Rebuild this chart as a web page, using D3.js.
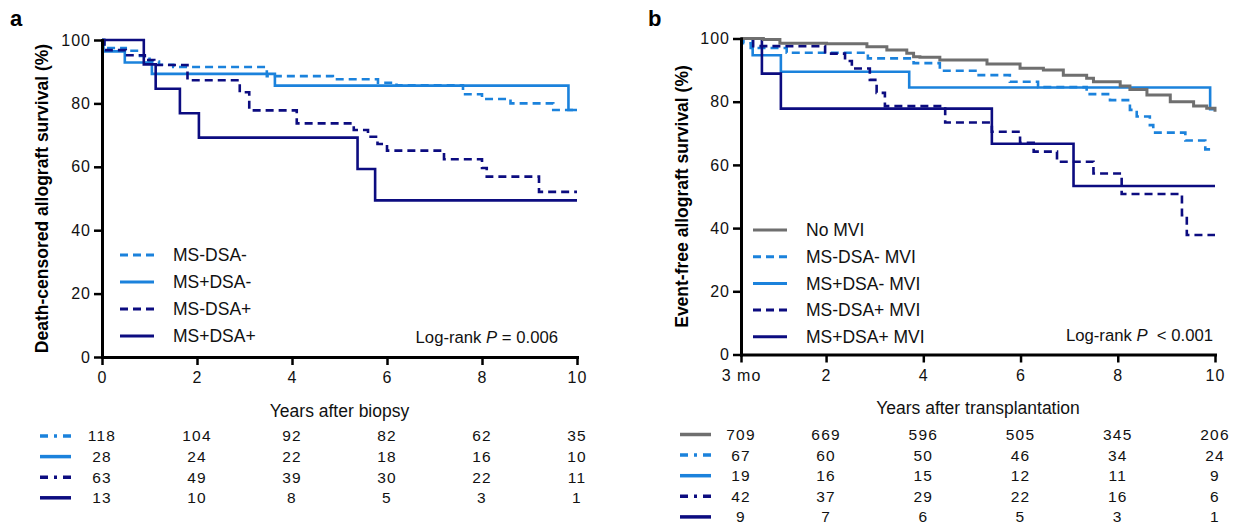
<!DOCTYPE html>
<html>
<head>
<meta charset="utf-8">
<script src="https://cdn.jsdelivr.net/npm/d3@7"></script>
<style>
  body { margin: 0; background: #fff; }
  svg { font-family: "Liberation Sans", Arial, sans-serif; }
</style>
</head>
<body>
<div id="container"></div>
<script>
// Colors
const lightBlue = "#1b82dc";
const navy = "#0c0c80";
const grey = "#6f6f6f";

// Panel a: Kaplan-Meier steps [years, survival %]
const aTicks = [0, 2, 4, 6, 8, 10];
const aTickLabels = ["0", "2", "4", "6", "8", "10"];
const aNames = ["MS-DSA-", "MS+DSA-", "MS-DSA+", "MS+DSA+"];
const aMsNegDsaNeg = [[0, 100], [0.05, 97.5], [0.5, 96.6], [0.8, 95.0], [1.0, 93.2], [1.2, 92.2], [1.5, 91.5],
  [3.47, 88.6], [4.86, 87.6], [5.81, 86.5], [6.2, 85.7], [7.6, 82.9], [8.0, 81.4], [8.6, 80.0], [9.5, 77.9], [10, 77.9]];
const aMsPosDsaNeg = [[0, 100], [0.03, 96.4], [0.48, 92.9], [1.05, 89.3], [3.64, 85.6], [9.82, 77.9], [10, 77.9]];
const aMsNegDsaPos = [[0, 100], [0.05, 96.8], [0.5, 95.2], [0.9, 93.7], [1.1, 92.1], [1.8, 87.3], [2.9, 83.5],
  [3.1, 77.8], [4.1, 73.7], [5.3, 71.6], [5.6, 69.5], [5.8, 67.2], [6.0, 65.1], [7.2, 62.4], [8.0, 59.6],
  [8.1, 56.9], [9.2, 52.1], [10, 52.1]];
const aMsPosDsaPos = [[0, 100], [0.88, 92.3], [1.13, 84.6], [1.64, 76.9], [2.04, 69.2], [5.38, 59.3], [5.75, 49.4], [10, 49.4]];
// numbers at risk
const aRisk1 = [118, 104, 92, 82, 62, 35];
const aRisk2 = [28, 24, 22, 18, 16, 10];
const aRisk3 = [63, 49, 39, 30, 22, 11];
const aRisk4 = [13, 10, 8, 5, 3, 1];

// Panel b
const bTicks = [0.25, 2, 4, 6, 8, 10];
const bTickLabels = ["3 mo", "2", "4", "6", "8", "10"];
const bNames = ["No MVI", "MS-DSA- MVI", "MS+DSA- MVI", "MS-DSA+ MVI", "MS+DSA+ MVI"];
const bNoMvi = [[0.25, 100], [0.71, 99.7], [1.05, 98.5], [2.01, 98.3], [2.84, 97.4], [3.25, 96.4], [3.66, 95.3],
  [3.8, 94.2], [3.93, 94.1], [4.34, 93.2], [4.62, 93.2], [5.31, 91.9], [5.99, 90.6], [6.47, 90.0], [6.88, 88.4],
  [7.36, 87.4], [7.5, 86.3], [8.05, 85.0], [8.25, 83.9], [8.6, 82.1], [9.08, 80.0], [9.56, 78.6], [9.83, 77.9], [10, 76.8]];
const bMsNegDsaNeg = [[0.25, 100], [0.3, 98.5], [0.45, 97.0], [1.19, 95.5], [2.86, 93.7], [3.8, 92.2], [4.34, 89.8],
  [5.1, 88.4], [5.78, 86.3], [6.36, 84.6], [7.36, 82.4], [7.84, 80.5], [8.25, 77.4], [8.39, 75.3], [8.66, 72.6],
  [8.73, 70.2], [9.39, 67.7], [9.8, 64.9], [10, 64.9]];
const bMsPosDsaNeg = [[0.25, 100], [0.49, 94.7], [1.07, 89.5], [3.71, 84.5], [9.9, 77.6], [10, 77.6]];
const bMsNegDsaPos = [[0.25, 100], [0.5, 97.6], [1.98, 95.2], [2.39, 92.9], [2.53, 90.5], [2.9, 86.9], [3.04, 82.8],
  [3.21, 78.6], [4.45, 73.4], [5.41, 70.5], [5.99, 67.0], [6.27, 64.2], [6.75, 61.0], [7.5, 57.3], [8.08, 50.8],
  [9.32, 44.1], [9.42, 37.8], [10, 37.8]];
const bMsPosDsaPos = [[0.25, 100], [0.68, 88.9], [1.07, 77.8], [5.41, 66.7], [7.09, 53.3], [10, 53.3]];
const bRisk1 = [709, 669, 596, 505, 345, 206];
const bRisk2 = [67, 60, 50, 46, 34, 24];
const bRisk3 = [19, 16, 15, 12, 11, 9];
const bRisk4 = [42, 37, 29, 22, 16, 6];
const bRisk5 = [9, 7, 6, 5, 3, 1];

const yTicks = [0, 20, 40, 60, 80, 100];

const svg = d3.select("#container")
  .append("svg")
  .attr("width", 1239)
  .attr("height", 527);

// Function to draw one panel
function drawPanel(p) {
  const x = d3.scaleLinear().domain(p.xDomain).range(p.xRange);
  const y = d3.scaleLinear().domain([0, 100]).range(p.yRange);
  const g = svg.append("g");

  // panel letter
  g.append("text")
    .attr("x", p.letterX).attr("y", 26)
    .attr("font-size", 22).attr("font-weight", "bold")
    .text(p.letter);

  // y axis title
  g.append("text")
    .attr("transform", "translate(" + p.yTitleX + "," + ((p.yRange[0] + p.yRange[1]) / 2) + ") rotate(-90)")
    .attr("text-anchor", "middle")
    .attr("dy", "0.35em")
    .attr("font-size", 17.5).attr("font-weight", "bold")
    .text(p.yTitle);

  // curves (drawOrder lets the grey line sit on top)
  const line = d3.line()
    .x(d => x(d[0]))
    .y(d => y(d[1]))
    .curve(d3.curveStepAfter);

  p.drawOrder.forEach(k => {
    const s = p.series[k];
    g.append("path")
      .datum(s.data)
      .attr("fill", "none")
      .attr("stroke", s.color)
      .attr("stroke-width", s.color === grey ? 3 : 2.6)
      .attr("stroke-dasharray", s.dashed ? "8,5" : null)
      .attr("d", line);
  });

  // axes
  const yAxis = g.append("g")
    .attr("transform", "translate(" + p.xRange[0] + ",0)")
    .call(d3.axisLeft(y).tickValues(yTicks).tickSize(8).tickSizeOuter(0).tickPadding(3));
  const xAxis = g.append("g")
    .attr("transform", "translate(0," + p.yRange[0] + ")")
    .call(d3.axisBottom(x).tickValues(p.xTicks).tickFormat((d, i) => p.xTickLabels[i])
      .tickSize(8).tickSizeOuter(0).tickPadding(7));

  [yAxis, xAxis].forEach(ax => {
    ax.select(".domain").attr("stroke-width", 3).attr("stroke-linecap", "square");
    ax.selectAll(".tick line").attr("stroke-width", 2.5);
    ax.selectAll(".tick text").attr("font-size", 16).attr("fill", "#111")
      .style("font-family", "'Liberation Sans', Arial, sans-serif")
      .attr("letter-spacing", "1px");
  });

  // x axis title
  g.append("text")
    .attr("x", (p.xRange[0] + p.xRange[1]) / 2).attr("y", p.xTitleY)
    .attr("text-anchor", "middle").attr("dy", "0.35em")
    .attr("font-size", 17.5).attr("fill", "#111")
    .text(p.xTitle);

  // legend
  p.series.forEach((s, i) => {
    const ly = p.legendY + i * p.legendStep;
    g.append("line")
      .attr("x1", p.legendX).attr("x2", p.legendX + 34)
      .attr("y1", ly).attr("y2", ly)
      .attr("stroke", s.color).attr("stroke-width", 3)
      .attr("stroke-dasharray", s.dashed ? "8,5" : null);
    g.append("text")
      .attr("x", p.legendX + 53).attr("y", ly)
      .attr("dy", "0.35em").attr("font-size", 17.5).attr("fill", "#111")
      .text(s.name);
  });

  // log-rank
  const lr = g.append("text")
    .attr("x", p.logX).attr("y", p.logY)
    .attr("text-anchor", "end").attr("dy", "0.35em")
    .attr("font-size", 16.7).attr("fill", "#111")
    .style("white-space", "pre");
  lr.append("tspan").text("Log-rank ");
  lr.append("tspan").attr("font-style", "italic").text("P");
  lr.append("tspan").text(p.logText);

  // numbers at risk
  p.series.forEach((s, i) => {
    const ry = p.riskY + i * p.riskStep;
    g.append("line")
      .attr("x1", p.riskSymX).attr("x2", p.riskSymX + 31)
      .attr("y1", ry).attr("y2", ry)
      .attr("stroke", s.color).attr("stroke-width", 3.5)
      .attr("stroke-dasharray", s.dashed ? "8,6,3,6,8" : null);
    g.selectAll(null)
      .data(s.risk)
      .enter()
      .append("text")
      .attr("x", (d, j) => x(p.xTicks[j]))
      .attr("y", ry)
      .attr("dy", "0.35em")
      .attr("text-anchor", "middle")
      .attr("font-size", 15.5)
      .attr("letter-spacing", "1.2px")
      .attr("fill", "#111")
      .text(d => d);
  });
}

drawPanel({
  letter: "a", letterX: 10,
  xDomain: [0, 10], xRange: [102, 577], yRange: [357, 40],
  xTicks: aTicks, xTickLabels: aTickLabels,
  yTitle: "Death-censored allograft survival (%)", yTitleX: 42,
  xTitle: "Years after biopsy", xTitleY: 411,
  legendX: 120, legendY: 255, legendStep: 27,
  logX: 558, logY: 337, logText: " = 0.006",
  riskSymX: 40, riskY: 436, riskStep: 20.6,
  drawOrder: [0, 1, 2, 3],
  series: [
    { name: aNames[0], data: aMsNegDsaNeg, color: lightBlue, dashed: true, risk: aRisk1 },
    { name: aNames[1], data: aMsPosDsaNeg, color: lightBlue, dashed: false, risk: aRisk2 },
    { name: aNames[2], data: aMsNegDsaPos, color: navy, dashed: true, risk: aRisk3 },
    { name: aNames[3], data: aMsPosDsaPos, color: navy, dashed: false, risk: aRisk4 }
  ]
});

drawPanel({
  letter: "b", letterX: 648,
  xDomain: [0.25, 10], xRange: [741, 1215], yRange: [354.5, 38.5],
  xTicks: bTicks, xTickLabels: bTickLabels,
  yTitle: "Event-free allograft survival (%)", yTitleX: 682,
  xTitle: "Years after transplantation", xTitleY: 408,
  legendX: 753, legendY: 230, legendStep: 26.7,
  logX: 1213, logY: 335, logText: "  < 0.001",
  riskSymX: 680, riskY: 434.5, riskStep: 20.6,
  drawOrder: [1, 2, 3, 4, 0],
  series: [
    { name: bNames[0], data: bNoMvi, color: grey, dashed: false, risk: bRisk1 },
    { name: bNames[1], data: bMsNegDsaNeg, color: lightBlue, dashed: true, risk: bRisk2 },
    { name: bNames[2], data: bMsPosDsaNeg, color: lightBlue, dashed: false, risk: bRisk3 },
    { name: bNames[3], data: bMsNegDsaPos, color: navy, dashed: true, risk: bRisk4 },
    { name: bNames[4], data: bMsPosDsaPos, color: navy, dashed: false, risk: bRisk5 }
  ]
});
</script>
</body>
</html>
